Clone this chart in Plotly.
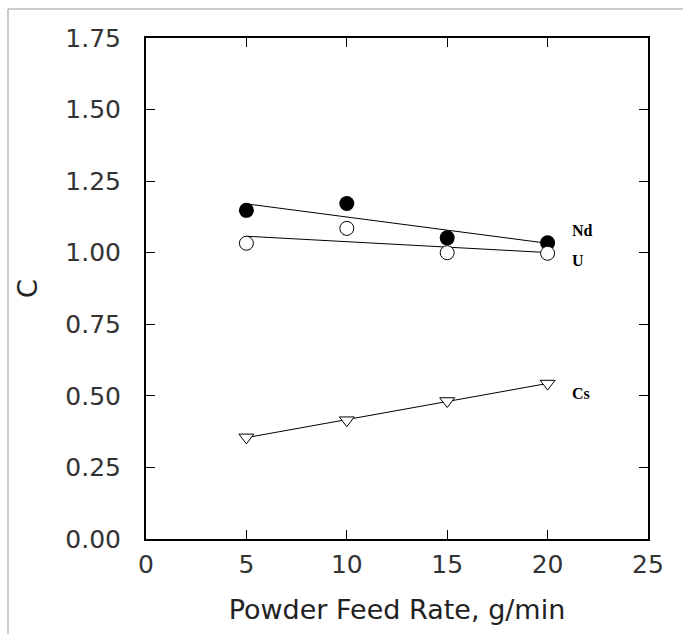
import numpy as np
import plotly.graph_objects as go

feed_rate = [5, 10, 15, 20]
c_nd = [1.148, 1.172, 1.052, 1.035]
c_u = [1.033, 1.085, 1.000, 0.998]
c_cs = [0.355, 0.415, 0.482, 0.543]

x_ticks = [0, 5, 10, 15, 20, 25]
y_ticks = [0.00, 0.25, 0.50, 0.75, 1.00, 1.25, 1.50, 1.75]

fig = go.Figure()

def fit_line(x, y):
    k, b = np.polyfit(x, y, 1)
    xs = [min(x), max(x)]
    return xs, [k * v + b for v in xs]

for ys in [c_nd, c_u, c_cs]:
    fx, fy = fit_line(feed_rate, ys)
    fig.add_trace(go.Scatter(x=fx, y=fy, mode="lines",
                             line=dict(color="black", width=1), showlegend=False,
                             hoverinfo="skip"))

fig.add_trace(go.Scatter(x=feed_rate, y=c_nd, mode="markers", name="Nd",
                         marker=dict(symbol="circle", size=15, color="black"),
                         showlegend=False))
fig.add_trace(go.Scatter(x=feed_rate, y=c_u, mode="markers", name="U",
                         marker=dict(symbol="circle", size=14, color="white",
                                     line=dict(color="black", width=1)),
                         showlegend=False))
fig.add_trace(go.Scatter(x=feed_rate, y=c_cs, mode="markers", name="Cs",
                         marker=dict(symbol="triangle-down", size=13, color="white",
                                     line=dict(color="black", width=1)),
                         showlegend=False))

lab_font = dict(family="Liberation Serif", size=16, color="black", weight="bold")
for txt, yv in [("Nd", 1.078), ("U", 0.972), ("Cs", 0.508)]:
    fig.add_annotation(x=21.1, y=yv, text=txt, showarrow=False, xanchor="left",
                       yanchor="middle", font=lab_font)

axis_font = dict(family="DejaVu Sans", size=25, color="#333")
title_font = dict(family="DejaVu Sans", size=27, color="#222")
fig.update_xaxes(range=[0, 25], tickvals=x_ticks, ticktext=[str(v) for v in x_ticks],
                 ticks="inside", ticklen=9, tickwidth=1, tickcolor="black",
                 showline=True, linecolor="black", linewidth=2, mirror="ticks",
                 showgrid=False, zeroline=False, tickfont=axis_font,
                 ticklabelstandoff=2,
                 title=dict(text="Powder Feed Rate, g/min", font=title_font, standoff=22))
fig.update_yaxes(range=[0, 1.75], tickvals=y_ticks, ticktext=[f"{v:.2f}" for v in y_ticks],
                 ticks="inside", ticklen=9, tickwidth=1, tickcolor="black",
                 showline=True, linecolor="black", linewidth=2, mirror="ticks",
                 showgrid=False, zeroline=False, tickfont=axis_font,
                 ticklabelstandoff=18,
                 title=dict(text="C", font=title_font, standoff=20))

fig.update_layout(width=683, height=635, margin=dict(l=146, r=35, t=38, b=96),
                  plot_bgcolor="white", paper_bgcolor="white")

# faint outer frame (top and left edges of the scanned figure)
fig.add_shape(type="line", xref="paper", yref="paper",
              x0=-138/502, x1=537/502, y0=1 + 29/501, y1=1 + 29/501,
              line=dict(color="#999", width=1))
fig.add_shape(type="line", xref="paper", yref="paper",
              x0=-138/502, x1=-138/502, y0=1 + 29/501, y1=-95/501,
              line=dict(color="#999", width=1))

fig.write_html("out.html")
